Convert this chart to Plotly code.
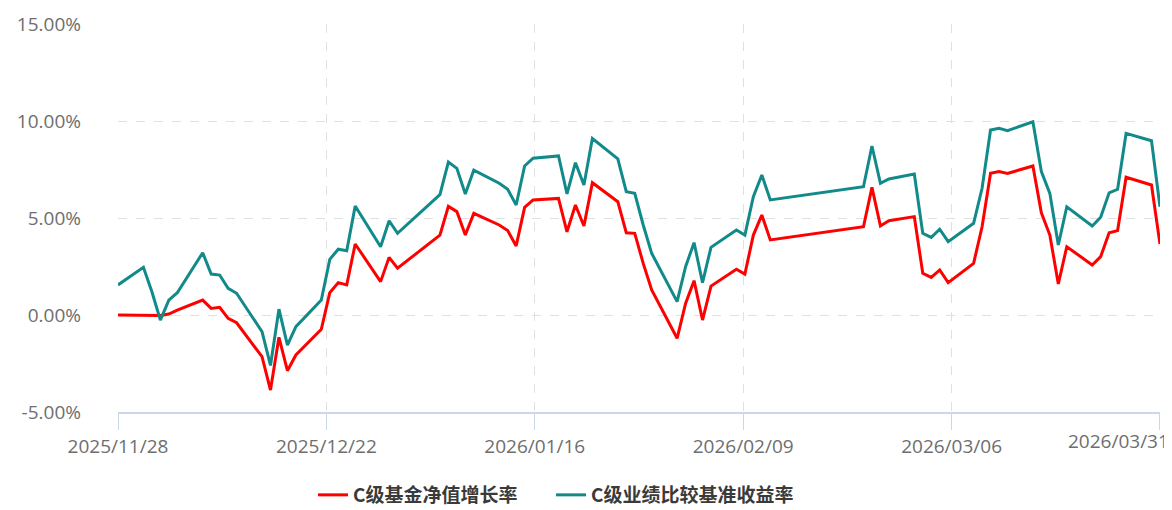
import pandas as pd
import plotly.graph_objects as go

dates = [
    "2025-11-28", "2025-12-01", "2025-12-02", "2025-12-03", "2025-12-04", "2025-12-05",
    "2025-12-08", "2025-12-09", "2025-12-10", "2025-12-11", "2025-12-12",
    "2025-12-15", "2025-12-16", "2025-12-17", "2025-12-18", "2025-12-19",
    "2025-12-22", "2025-12-23", "2025-12-24", "2025-12-25", "2025-12-26",
    "2025-12-29", "2025-12-30", "2025-12-31",
    "2026-01-05", "2026-01-06", "2026-01-07", "2026-01-08", "2026-01-09",
    "2026-01-12", "2026-01-13", "2026-01-14", "2026-01-15", "2026-01-16",
    "2026-01-19", "2026-01-20", "2026-01-21", "2026-01-22", "2026-01-23",
    "2026-01-26", "2026-01-27", "2026-01-28", "2026-01-29", "2026-01-30",
    "2026-02-02", "2026-02-03", "2026-02-04", "2026-02-05", "2026-02-06",
    "2026-02-09", "2026-02-10", "2026-02-11", "2026-02-12", "2026-02-13",
    "2026-02-24", "2026-02-25", "2026-02-26", "2026-02-27",
    "2026-03-02", "2026-03-03", "2026-03-04", "2026-03-05", "2026-03-06",
    "2026-03-09", "2026-03-10", "2026-03-11", "2026-03-12", "2026-03-13",
    "2026-03-16", "2026-03-17", "2026-03-18", "2026-03-19", "2026-03-20",
    "2026-03-23", "2026-03-24", "2026-03-25", "2026-03-26", "2026-03-27",
    "2026-03-30", "2026-03-31",
]

fund_nav_growth = [
    0.00, 0.00, 0.00, -0.03, 0.05, 0.25,
    0.77, 0.34, 0.40, -0.17, -0.40,
    -2.15, -3.87, -1.15, -2.87, -2.06,
    -0.74, 1.15, 1.67, 1.55, 3.66,
    1.72, 2.97, 2.41,
    4.12, 5.60, 5.33, 4.12, 5.24,
    4.64, 4.35, 3.56, 5.55, 5.93,
    6.01, 4.29, 5.67, 4.59, 6.82,
    5.84, 4.24, 4.21, 2.66, 1.29,
    -1.20, 0.60, 1.77, -0.26, 1.49,
    2.36, 2.11, 4.12, 5.15, 3.87,
    4.55, 6.58, 4.59, 4.86,
    5.07, 2.15, 1.94, 2.32, 1.67,
    2.66, 4.55, 7.30, 7.39, 7.30,
    7.68, 5.27, 4.12, 1.60, 3.52,
    2.58, 3.01, 4.24, 4.35, 7.10,
    6.70, 3.66,
]

benchmark_return = [
    1.55, 2.46, 1.20, -0.26, 0.77, 1.15,
    3.21, 2.11, 2.06, 1.37, 1.12,
    -0.86, -2.60, 0.30, -1.55, -0.60,
    0.77, 2.87, 3.39, 3.31, 5.62,
    3.52, 4.86, 4.21,
    6.20, 7.88, 7.56, 6.24, 7.47,
    6.79, 6.48, 5.67, 7.68, 8.08,
    8.20, 6.24, 7.85, 6.70, 9.10,
    8.05, 6.36, 6.27, 4.64, 3.18,
    0.69, 2.49, 3.73, 1.67, 3.49,
    4.38, 4.12, 6.10, 7.22, 5.93,
    6.61, 8.71, 6.79, 7.01,
    7.27, 4.21, 4.00, 4.42, 3.78,
    4.73, 6.53, 9.54, 9.62, 9.50,
    9.96, 7.39, 6.27, 3.61, 5.58,
    4.59, 5.04, 6.30, 6.48, 9.36,
    8.98, 5.58,
]

x_tick_labels = ["2025/11/28", "2025/12/22", "2026/01/16", "2026/02/09", "2026/03/06", "2026/03/31"]
y_tick_values = [-5, 0, 5, 10, 15]
y_tick_labels = ["-5.00%", "0.00%", "5.00%", "10.00%", "15.00%"]

series_names = ["C级基金净值增长率", "C级业绩比较基准收益率"]

# The page body has an 8px default margin, so the figure is sized to fit the window.
FIG_W, FIG_H = 1164, 502
M_L, M_R, M_T, M_B = 110, 12, 16, 98
PLOT_W = FIG_W - M_L - M_R
PLOT_H = FIG_H - M_T - M_B

x = pd.to_datetime(dates)
x_start, x_end = x[0], x[-1]
x_tickvals = [t.strftime("%Y-%m-%d %H:%M:%S") for t in
              pd.date_range(x_start, x_end, periods=len(x_tick_labels))]
x_range = [x_start.strftime("%Y-%m-%d"), (x_end + pd.Timedelta(minutes=5)).strftime("%Y-%m-%d %H:%M:%S")]

# last label is drawn separately, right-aligned inside the canvas
x_ticktext = x_tick_labels[:-1] + [""]

fig = go.Figure()
fig.add_trace(go.Scatter(
    x=x, y=fund_nav_growth, mode="lines", name=series_names[0],
    line=dict(color="#ff0000", width=3), legend="legend",
))
fig.add_trace(go.Scatter(
    x=x, y=benchmark_return, mode="lines", name=series_names[1],
    line=dict(color="#128a8a", width=3), legend="legend2",
))

label_color = "#6e6e6e"
grid_color = "#e0e0e0"
legend_font = dict(family="Noto Sans CJK SC", size=19, color="#3a3a3a", weight="bold")
legend_common = dict(
    orientation="h", xref="container", yref="container",
    xanchor="left", y=15 / FIG_H, yanchor="middle",
    font=legend_font, itemwidth=30, bgcolor="rgba(0,0,0,0)",
)
fig.update_layout(
    width=FIG_W, height=FIG_H,
    margin=dict(l=M_L, r=M_R, t=M_T, b=M_B),
    paper_bgcolor="white", plot_bgcolor="white",
    font=dict(family="Open Sans, Noto Sans CJK SC", color=label_color),
    showlegend=True,
    legend=dict(x=305 / FIG_W, **legend_common),
    legend2=dict(x=543 / FIG_W, **legend_common),
    xaxis=dict(
        type="date", automargin=False,
        range=x_range,
        tickvals=x_tickvals, ticktext=x_ticktext,
        showgrid=True, gridcolor=grid_color, griddash="dash", gridwidth=1,
        showline=True, linecolor="#ccd6eb", linewidth=1.5,
        ticks="outside", ticklen=16, tickcolor="#ccd6eb", tickwidth=1,
        tickfont=dict(size=19, color=label_color),
        zeroline=False,
    ),
    yaxis=dict(
        range=[-5, 15], automargin=False,
        tickvals=y_tick_values, ticktext=y_tick_labels,
        showgrid=True, gridcolor=grid_color, griddash="dash", gridwidth=1,
        showline=False, zeroline=False,
        tickfont=dict(size=19, color=label_color),
        ticklabelstandoff=36,
    ),
)

fig.add_annotation(
    text=x_tick_labels[-1], xref="paper", yref="paper",
    x=(FIG_W - 1 - M_L) / PLOT_W, xanchor="right", y=-29 / PLOT_H, yanchor="middle",
    showarrow=False, font=dict(size=19, color=label_color, family="Open Sans"),
)

fig.write_html("out.html")
